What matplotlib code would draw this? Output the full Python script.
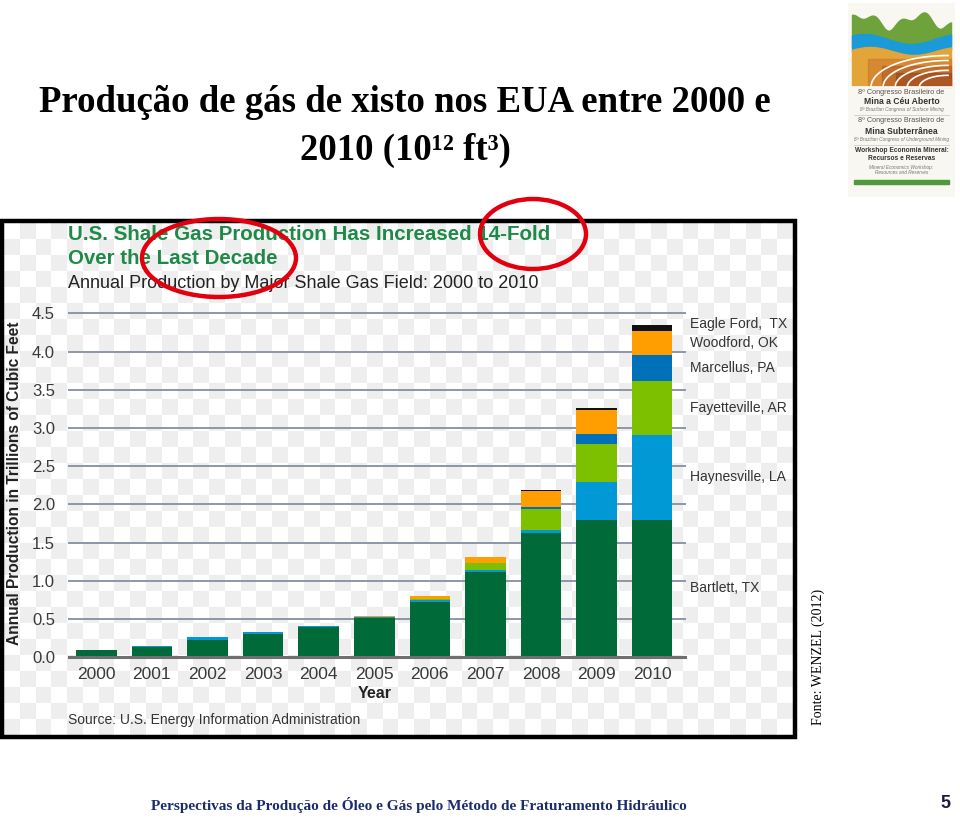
import numpy as np
import matplotlib
matplotlib.use("Agg")
import matplotlib.pyplot as plt
from matplotlib.patches import Ellipse, Rectangle

# dados (trilhoes de pes cubicos)
anos = ['2000', '2001', '2002', '2003', '2004', '2005', '2006', '2007', '2008', '2009', '2010']
bartlett = [0.09, 0.14, 0.23, 0.31, 0.40, 0.52, 0.72, 1.11, 1.62, 1.80, 1.80]
haynesville = [0.01, 0.01, 0.03, 0.025, 0.01, 0.01, 0.03, 0.03, 0.05, 0.49, 1.11]
fayetteville = [0, 0, 0, 0, 0, 0, 0.01, 0.09, 0.27, 0.50, 0.71]
marcellus = [0, 0, 0, 0, 0, 0, 0, 0.01, 0.03, 0.13, 0.34]
woodford = [0, 0, 0, 0, 0, 0.01, 0.04, 0.07, 0.21, 0.32, 0.31]
eagle_ford = [0, 0, 0, 0, 0, 0, 0, 0, 0.01, 0.02, 0.08]

campos = ['Bartlett, TX', 'Haynesville, LA', 'Fayetteville, AR', 'Marcellus, PA', 'Woodford, OK', 'Eagle Ford,  TX']
series = [bartlett, haynesville, fayetteville, marcellus, woodford, eagle_ford]
cores = ['#006b38', '#0099d6', '#7dc000', '#0070b8', '#ff9e00', '#111111']
yticks = [0.0, 0.5, 1.0, 1.5, 2.0, 2.5, 3.0, 3.5, 4.0, 4.5]

W, H = 960, 818
fig = plt.figure(figsize=(9.6, 8.18), dpi=100)
fig.patch.set_facecolor('white')

def fx(px):
    return px / W

def fy(py):
    return 1 - py / H

sans = ['Liberation Sans', 'DejaVu Sans']
serif = ['Liberation Serif', 'DejaVu Serif']

# fundo quadriculado dentro da moldura
bg = fig.add_axes([fx(4), fy(735), fx(789), (735 - 223) / H])
nx, ny = 50, 32
chk = (np.add.outer(np.arange(ny), np.arange(nx)) % 2).astype(float)
bg.imshow(chk, cmap=matplotlib.colors.ListedColormap(['#ffffff', '#eeeeee']),
          aspect='auto', interpolation='nearest')
bg.axis('off')

# grafico principal
ax = fig.add_axes([fx(69), fy(657.3), fx(685 - 69), (657.3 - 313.3) / H])
ax.set_facecolor('none')
x = np.arange(len(anos))
base = np.zeros(len(anos))
for nome, vals, cor in zip(campos, series, cores):
    ax.bar(x, vals, bottom=base, width=0.73, color=cor, zorder=3, linewidth=0)
    base = base + np.array(vals)

ax.set_xlim(-0.49, 10.59)
ax.set_ylim(0, 4.5)
ax.set_yticks(yticks)
ax.set_yticklabels(['%.1f' % v for v in yticks])
ax.set_xticks(x)
ax.set_xticklabels(anos)
for v in yticks[1:]:
    ax.axhline(v, color='#8d97a5', lw=1.4, zorder=1, clip_on=False)
ax.axhline(0, color='#6f6f6f', lw=2.2, zorder=4, clip_on=False)
for s in ax.spines.values():
    s.set_visible(False)
ax.tick_params(length=0, labelsize=12, labelcolor='#3a3a3a')
ax.tick_params(axis='y', pad=10)
ax.tick_params(axis='x', pad=7, labelsize=12.5)
for t in ax.get_xticklabels() + ax.get_yticklabels():
    t.set_family(sans)

# rotulos dos campos ao lado da barra de 2010
acum = 0
for nome, vals in zip(campos, series):
    meio = acum + vals[-1] / 2
    acum += vals[-1]
    if nome.startswith('Eagle'):
        meio += 0.05
    ax.text(1.008, meio, nome, transform=ax.get_yaxis_transform(), fontsize=10,
            color='#333333', va='center', ha='left', family=sans, clip_on=False)

fig.text(fx(15), fy(483), 'Annual Production in Trillions of Cubic Feet', rotation=90,
         fontsize=11.2, fontweight='bold', color='#222222', ha='center', va='center', family=sans)
fig.text(fx(375), fy(694), 'Year', fontsize=11.5, fontweight='bold', color='#222222',
         ha='center', va='center', family=sans)
fig.text(fx(68), fy(235), 'U.S. Shale Gas Production Has Increased 14-Fold', fontsize=14.8,
         fontweight='bold', color='#1f8a48', ha='left', va='center', family=sans)
fig.text(fx(68), fy(258), 'Over the Last Decade', fontsize=14.8,
         fontweight='bold', color='#1f8a48', ha='left', va='center', family=sans)
fig.text(fx(68), fy(284), 'Annual Production by Major Shale Gas Field: 2000 to 2010', fontsize=13,
         color='#222222', ha='left', va='center', family=sans)
fig.text(fx(68), fy(720), 'Source: U.S. Energy Information Administration', fontsize=10,
         color='#333333', ha='left', va='center', family=sans)

# moldura preta
fig.add_artist(Rectangle((fx(2), fy(737)), fx(793), (737 - 221) / H, transform=fig.transFigure,
                         fill=False, edgecolor='black', lw=3.2, zorder=5))

# elipses vermelhas
fig.add_artist(Ellipse((fx(219), fy(258)), fx(154), 78 / H, transform=fig.transFigure,
                       fill=False, edgecolor='#e2000f', lw=3.2, zorder=6))
fig.add_artist(Ellipse((fx(533), fy(234)), fx(106), 70 / H, transform=fig.transFigure,
                       fill=False, edgecolor='#e2000f', lw=3.2, zorder=6))

# titulo do slide
fig.text(fx(405), fy(103), 'Produção de gás de xisto nos EUA entre 2000 e', fontsize=26.5,
         fontweight='bold', ha='center', va='center', family=serif)
fig.text(fx(405), fy(150), '2010 (10¹² ft³)', fontsize=26.5,
         fontweight='bold', ha='center', va='center', family=serif)

fig.text(fx(818), fy(657), 'Fonte: WENZEL (2012)', rotation=90, fontsize=10,
         ha='center', va='center', family=serif)

# rodape
fig.text(fx(419), fy(805), 'Perspectivas da Produção de Óleo e Gás pelo Método de Fraturamento Hidráulico',
         fontsize=11, fontweight='bold', color='#1c2b6c', ha='center', va='center', family=serif)
fig.text(fx(945), fy(803), '5', fontsize=13, fontweight='bold', color='#1a1a40',
         ha='center', va='center', family=sans)

# logotipo do congresso
lg = fig.add_axes([fx(848), fy(197), fx(107), 194 / H])
lg.set_xlim(0, 107)
lg.set_ylim(194, 0)
lg.axis('off')
lg.add_patch(Rectangle((0, 0), 107, 194, color='#f8f7f2', zorder=0))
t = np.linspace(4, 103, 60)
topo = 18 - 6 * np.sin(t / 9) - 4 * np.sin(t / 4 + 1)
lg.fill_between(t, topo, 45 - 4 * np.sin(t / 15), color='#6ea23a', zorder=1)
lg.fill_between(t, 36 - 5 * np.sin(t / 15 + 0.5), 50 - 4 * np.sin(t / 14), color='#1a9ad6', zorder=2)
lg.fill_between(t, 48 - 4 * np.sin(t / 14), 84 + 0 * t, color='#e3a43a', zorder=3)
for k, c in enumerate(['#c96a2a', '#a84e24', '#8a3a1c', '#b45a28', '#7a3018']):
    r = 70 - k * 11
    a = np.linspace(np.pi, 1.5 * np.pi, 40)
    lg.plot(100 + r * np.cos(a) * 1.1, 84 + r * np.sin(a) * 0.45, color='white', lw=1.2, zorder=4)
    lg.fill_between(np.linspace(20 + k * 14, 103, 30), 84 - (3.5 - k * 0.6) * 8 + k * 2, 84,
                    color=c, alpha=0.45, zorder=3)
lg.plot([4, 103], [84, 84], color='#f8f7f2', lw=2, zorder=5)
logo_txt = [
    (90, '8º Congresso Brasileiro de', 5.2, 'normal', 'normal', '#555555'),
    (99, 'Mina a Céu Aberto', 6.2, 'bold', 'normal', '#333333'),
    (107, '8º Brazilian Congress of Surface Mining', 3.4, 'normal', 'italic', '#777777'),
    (118, '8º Congresso Brasileiro de', 5.2, 'normal', 'normal', '#555555'),
    (128, 'Mina Subterrânea', 6.2, 'bold', 'normal', '#333333'),
    (137, '8º Brazilian Congress of Underground Mining', 3.4, 'normal', 'italic', '#777777'),
    (147, 'Workshop Economia Mineral:', 4.8, 'bold', 'normal', '#333333'),
    (155, 'Recursos e Reservas', 4.8, 'bold', 'normal', '#333333'),
    (164, 'Mineral Economics Workshop:', 3.4, 'normal', 'italic', '#777777'),
    (170, 'Resources and Reserves', 3.4, 'normal', 'italic', '#777777'),
]
for yy, s, fs, fw, st, c in logo_txt:
    lg.text(53.5, yy, s, fontsize=fs, fontweight=fw, style=st, color=c,
            ha='center', va='center', family=['Liberation Sans Narrow', 'Liberation Sans', 'DejaVu Sans'])
lg.plot([6, 101], [112, 112], color='#cccccc', lw=0.6)
lg.plot([6, 101], [142, 142], color='#cccccc', lw=0.6)
lg.add_patch(Rectangle((6, 177), 95, 3.5, color='#4f9a3a', zorder=2))

fig.savefig('out.png', dpi=100)
